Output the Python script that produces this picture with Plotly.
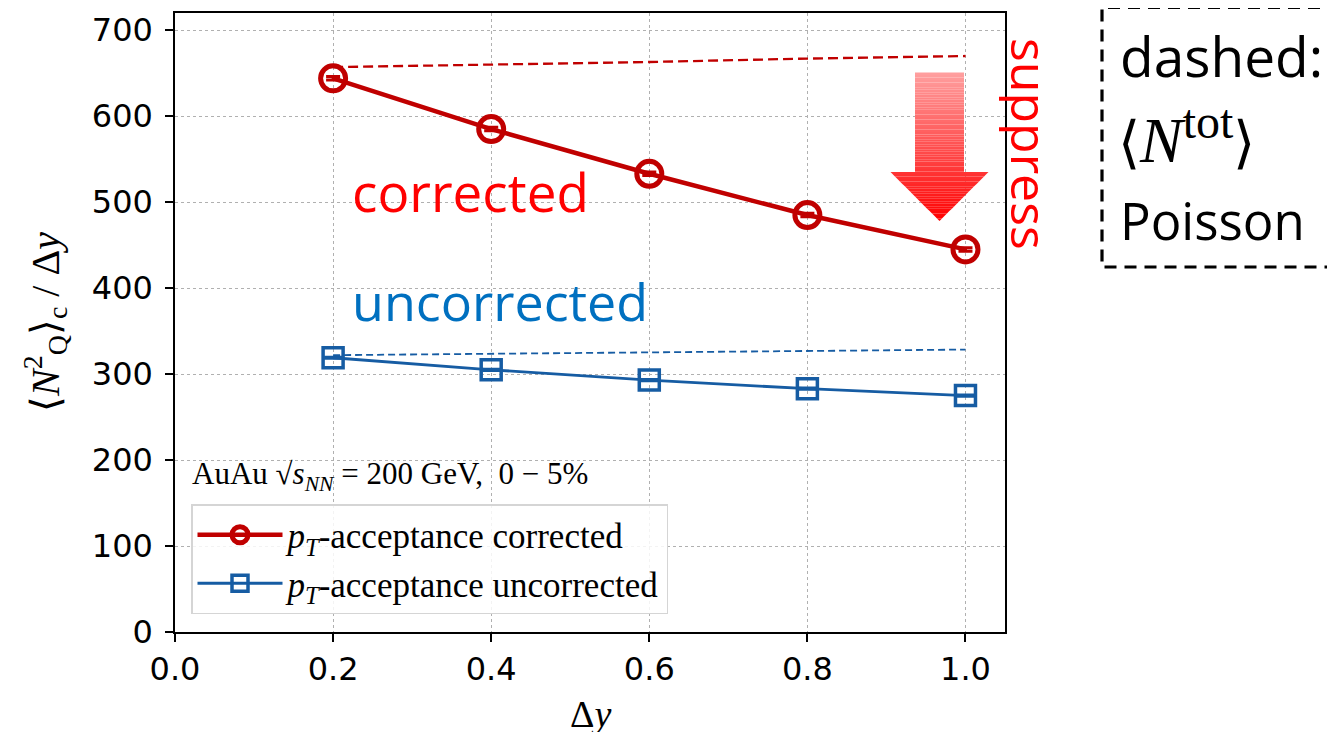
import plotly.graph_objects as go

# ---------------- data ----------------
dy = [0.2, 0.4, 0.6, 0.8, 1.0]
corrected = [644, 585, 533, 485, 445]
corrected_err = [2, 2, 2, 2, 2]
corrected_poisson = [657, 660, 663, 667, 670]
uncorrected = [319, 305, 293, 283, 275]
uncorrected_err = [1, 1, 1, 1, 1]
uncorrected_poisson = [322, 323.5, 325, 326.5, 328.5]

x_ticks = [0.0, 0.2, 0.4, 0.6, 0.8, 1.0]
x_ticklabels = ["0.0", "0.2", "0.4", "0.6", "0.8", "1.0"]
y_ticks = [0, 100, 200, 300, 400, 500, 600, 700]

RED = "#c00000"
BLUE = "#165ca3"

W, H = 1335, 732
OFF = 8  # page body margin
# desired plot-area edges in page pixels
L, R, T, B = 175, 1005, 13, 632


def px(xp):
    return (xp - L) / (R - L)


def py(yp):
    return (B - yp) / (B - T)


fig = go.Figure()

# dashed Poisson lines
fig.add_trace(go.Scatter(x=dy, y=corrected_poisson, mode="lines",
                         line=dict(color=RED, width=2.3, dash="10px,5px"),
                         showlegend=False, hoverinfo="skip"))
fig.add_trace(go.Scatter(x=dy, y=uncorrected_poisson, mode="lines",
                         line=dict(color=BLUE, width=1.8, dash="7px,4px"),
                         showlegend=False, hoverinfo="skip"))

# main series
fig.add_trace(go.Scatter(
    x=dy, y=corrected, mode="lines+markers",
    name="<i>p</i><sub><i>T</i></sub>-acceptance corrected",
    line=dict(color=RED, width=4.5),
    marker=dict(symbol="circle-open", size=25, color=RED, line=dict(width=5, color=RED)),
    error_y=dict(type="data", array=corrected_err, color=RED, thickness=3, width=7),
))
fig.add_trace(go.Scatter(
    x=dy, y=uncorrected, mode="lines+markers",
    name="<i>p</i><sub><i>T</i></sub>-acceptance uncorrected",
    line=dict(color=BLUE, width=2.8),
    marker=dict(symbol="square-open", size=20, color=BLUE, line=dict(width=3.5, color=BLUE)),
    error_y=dict(type="data", array=uncorrected_err, color=BLUE, thickness=2.5, width=9),
))

shapes = []
# gradient arrow (decoration), drawn as horizontal slices
shaft_l, shaft_r = 915, 964
head_l, head_r = 891, 989
tip_x = 939.5
y_top, y_base, y_tip = 72.5, 172, 221
n = 60


def half(yy):
    return (head_r - head_l) / 2 * (y_tip - yy) / (y_tip - y_base)


for i in range(n):
    y0 = y_top + (y_tip - y_top) * i / n
    y1 = y_top + (y_tip - y_top) * (i + 1) / n
    f = (i + 0.5) / n
    col = f"rgb(255,{int(160 * (1 - f))},{int(160 * (1 - f))})"
    if y1 <= y_base:
        path = (f"M {px(shaft_l)},{py(y0)} L {px(shaft_r)},{py(y0)} "
                f"L {px(shaft_r)},{py(y1)} L {px(shaft_l)},{py(y1)} Z")
    else:
        ya = max(y0, y_base)
        h0, h1 = half(ya), half(y1)
        path = (f"M {px(tip_x - h0)},{py(ya)} L {px(tip_x + h0)},{py(ya)} "
                f"L {px(tip_x + h1)},{py(y1)} L {px(tip_x - h1)},{py(y1)} Z")
        if y0 < y_base:
            shapes.append(dict(type="path", xref="paper", yref="paper",
                               path=(f"M {px(shaft_l)},{py(y0)} L {px(shaft_r)},{py(y0)} "
                                     f"L {px(shaft_r)},{py(y_base)} L {px(shaft_l)},{py(y_base)} Z"),
                               fillcolor=col, line=dict(width=0), layer="above"))
    shapes.append(dict(type="path", xref="paper", yref="paper", path=path,
                       fillcolor=col, line=dict(width=0), layer="above"))

# dashed info box on the right (right side runs off the page)
shapes.append(dict(type="path", xref="paper", yref="paper",
                   path=(f"M {px(1500)},{py(7.5)} L {px(1102)},{py(7.5)} "
                         f"L {px(1102)},{py(267)} L {px(1500)},{py(267)}"),
                   line=dict(color="black", width=3.2, dash="12px,8px"),
                   fillcolor="rgba(0,0,0,0)"))

SANS = "Open Sans"
SERIF = "Liberation Serif"

annotations = [
    dict(text="corrected", x=px(350), y=py(191), xref="paper", yref="paper",
         xanchor="left", yanchor="middle", showarrow=False,
         font=dict(family=SANS, size=53, color="#ff0000")),
    dict(text="uncorrected", x=px(350), y=py(300), xref="paper", yref="paper",
         xanchor="left", yanchor="middle", showarrow=False,
         font=dict(family=SANS, size=52, color="#0070c0")),
    dict(text="suppress", x=px(1030), y=py(144), xref="paper", yref="paper",
         xanchor="center", yanchor="middle", showarrow=False, textangle=90,
         font=dict(family=SANS, size=50, color="#ff0000")),
    dict(text="dashed:", x=px(1118), y=py(56), xref="paper", yref="paper",
         xanchor="left", yanchor="middle", showarrow=False,
         font=dict(family=SANS, size=55, color="black")),
    dict(text="⟨<span style='font-family:Liberation Serif;font-size:64px'><i>N</i></span>"
              "<sup><span style='font-family:Liberation Serif;font-size:48px'>tot</span></sup>⟩",
         x=px(1116), y=py(137), xref="paper", yref="paper",
         xanchor="left", yanchor="middle", showarrow=False,
         font=dict(family=SANS, size=57, color="black")),
    dict(text="Poisson", x=px(1118), y=py(220), xref="paper", yref="paper",
         xanchor="left", yanchor="middle", showarrow=False,
         font=dict(family=SANS, size=51, color="black")),
    dict(text="AuAu √<i>s</i><sub><i>NN</i></sub> = 200 GeV,  0 − 5%",
         x=px(190), y=py(476), xref="paper", yref="paper",
         xanchor="left", yanchor="middle", showarrow=False,
         font=dict(family=SERIF, size=31, color="black")),
    dict(text="⟨<i>N</i><sup>2</sup><sub>Q</sub>⟩<sub>c</sub> / Δ<i>y</i>",
         x=px(45), y=py(322), xref="paper", yref="paper",
         xanchor="center", yanchor="middle", showarrow=False, textangle=-90,
         font=dict(family=SERIF, size=40, color="black")),
    dict(text="Δ<i>y</i>", x=0.5, y=py(714), xref="paper", yref="paper",
         xanchor="center", yanchor="middle", showarrow=False,
         font=dict(family=SERIF, size=38, color="black")),
]

axis_common = dict(
    showline=True, linecolor="black", linewidth=1.5, mirror=True,
    ticks="outside", ticklen=8, tickwidth=1.5, tickcolor="black",
    showgrid=True, gridcolor="#b0b0b0", gridwidth=1, griddash="dot",
    zeroline=False,
    tickfont=dict(family="DejaVu Sans", size=32, color="black"),
)

fig.update_layout(
    width=W, height=H,
    margin=dict(l=L - OFF, r=W - R + OFF, t=T - OFF, b=H - B + OFF, autoexpand=False),
    paper_bgcolor="white", plot_bgcolor="white",
    xaxis=dict(range=[0, 1.05], tickvals=x_ticks, ticktext=x_ticklabels, **axis_common),
    yaxis=dict(range=[0, 720], tickvals=y_ticks, ticklabelstandoff=6, **axis_common),
    legend=dict(x=px(191), y=py(614), xanchor="left", yanchor="bottom",
                bgcolor="rgba(255,255,255,0.85)", bordercolor="#d5d5d5", borderwidth=1.5,
                font=dict(family=SERIF, size=35, color="black"), itemwidth=85,
                tracegroupgap=4),
    shapes=shapes,
    annotations=annotations,
    showlegend=True,
)

fig.write_html("out.html")
